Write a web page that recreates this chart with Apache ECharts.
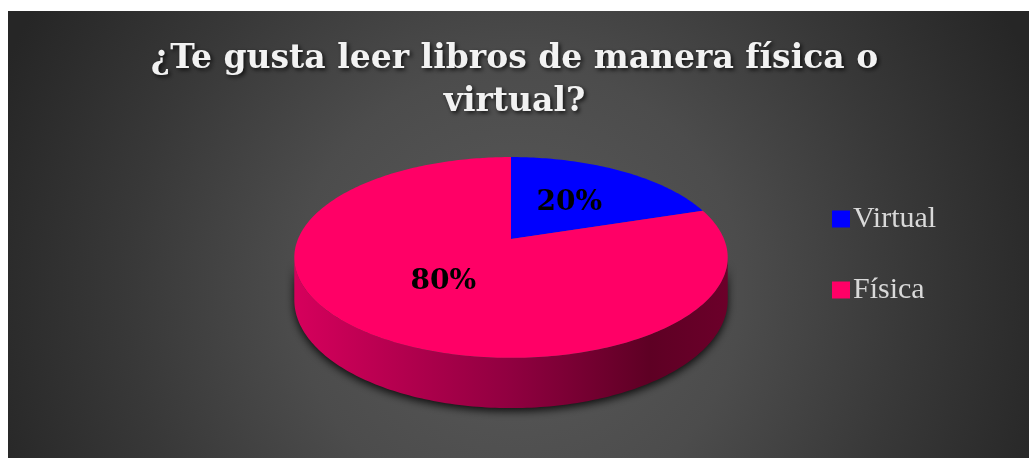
<!DOCTYPE html>
<html>
<head>
<meta charset="utf-8">
<script src="https://cdn.jsdelivr.net/npm/echarts@6/dist/echarts.min.js"></script>
<style>
  html, body { margin: 0; padding: 0; background: #fff; }
  #chart { width: 1029px; height: 458px; }
</style>
</head>
<body>
<div id="chart"></div>
<script>
// datos de la encuesta
var categories = ['Virtual', 'Física'];
var values = [20, 80];
var labels = ['20%', '80%'];
var sliceColors = ['#0000ff', '#ff0066'];

// geometria del pastel 3D (perspectiva)
var cx = 511, cy = 239;
var A = 213, B = 97, k = 0.184, H0 = 41;

function proj(r, deg, drop) {
  var a = deg * Math.PI / 180;
  var u = r * Math.cos(a), v = r * Math.sin(a);
  var d = 1 - k * v;
  return [cx + A * u / d, cy + (B * v + drop * H0) / d];
}

var total = values.reduce(function (s, v) { return s + v; }, 0);
var angles = [];
var acc = 0;
values.forEach(function (v) {
  var st = -90 + 360 * acc / total;
  acc += v;
  angles.push([st, -90 + 360 * acc / total]);
});

var phi1 = Math.asin(k) * 180 / Math.PI;
var phi2 = 180 - phi1;

var sideGradient = {
  type: 'linear', x: 294, y: 0, x2: 728, y2: 0, global: true,
  colorStops: [
    {offset: 0, color: '#d6005c'},
    {offset: 0.5, color: '#900040'},
    {offset: 0.82, color: '#5e0024'},
    {offset: 1, color: '#6c002a'}
  ]
};

function arc(a, b, r, drop) {
  var pts = [];
  var n = Math.max(2, Math.ceil(Math.abs(b - a)));
  for (var i = 0; i <= n; i++) {
    pts.push(proj(r, a + (b - a) * i / n, drop));
  }
  return pts;
}

function renderSlice(params, api) {
  var i = params.seriesIndex;
  var st = angles[i][0], en = angles[i][1];
  var children = [];
  // pared frontal
  var a = Math.max(st, phi1), b = Math.min(en, phi2);
  if (b > a) {
    var pts = arc(a, b, 1, 0).concat(arc(b, a, 1, 1));
    children.push({
      type: 'polygon',
      z2: 1,
      shape: {points: pts},
      style: {
        fill: sideGradient,
        shadowBlur: 8,
        shadowColor: 'rgba(0,0,0,0.85)',
        shadowOffsetY: 3
      }
    });
  }
  // cara superior
  var top = [proj(0, 0, 0)].concat(arc(st, en, 1, 0));
  children.push({
    type: 'polygon',
    z2: 10,
    shape: {points: top},
    style: {fill: sliceColors[i]}
  });
  var mid = (st + en) / 2;
  var lp = proj(0.5, mid, 0);
  children.push({
    type: 'text',
    z2: 20,
    x: lp[0], y: lp[1],
    style: {
      text: labels[i],
      fill: '#000',
      font: 'bold 28px "DejaVu Serif"',
      align: 'center',
      verticalAlign: 'middle'
    }
  });
  return {type: 'group', children: children};
}

var myChart = echarts.init(document.getElementById('chart'));

var series = categories.map(function (name, i) {
  return {
    name: name,
    type: 'custom',
    coordinateSystem: 'none',
    itemStyle: {color: sliceColors[i]},
    renderItem: renderSlice,
    data: [[values[i]]],
    z: 2
  };
});

myChart.setOption({
  animation: false,
  graphic: [{
    type: 'rect',
    z: -100,
    silent: true,
    shape: {x: 8, y: 11, width: 1021, height: 447},
    style: {
      fill: {
        type: 'radial', x: 518, y: 290, r: 560, global: true,
        colorStops: [
          {offset: 0, color: '#5a5a5a'},
          {offset: 0.4, color: '#4c4c4c'},
          {offset: 0.7, color: '#383838'},
          {offset: 1, color: '#262626'}
        ]
      }
    }
  }],
  title: {
    text: '¿Te gusta leer libros de manera física o\nvirtual?',
    left: 'center',
    top: 33,
    textStyle: {
      color: '#f2f2f2',
      fontFamily: 'DejaVu Serif',
      fontWeight: 'bold',
      fontSize: 33,
      lineHeight: 43,
      textShadowColor: 'rgba(0,0,0,0.75)',
      textShadowBlur: 4,
      textShadowOffsetX: 2,
      textShadowOffsetY: 2
    }
  },
  legend: {
    orient: 'vertical',
    left: 827,
    top: 199,
    icon: 'rect',
    itemWidth: 18,
    itemHeight: 17,
    itemGap: 41,
    data: categories,
    textStyle: {
      color: '#d9d9d9',
      fontFamily: 'Liberation Serif',
      fontSize: 30,
      lineHeight: 28,
      padding: [0, 0, 0, -2]
    }
  },
  series: series
});
</script>
</body>
</html>
